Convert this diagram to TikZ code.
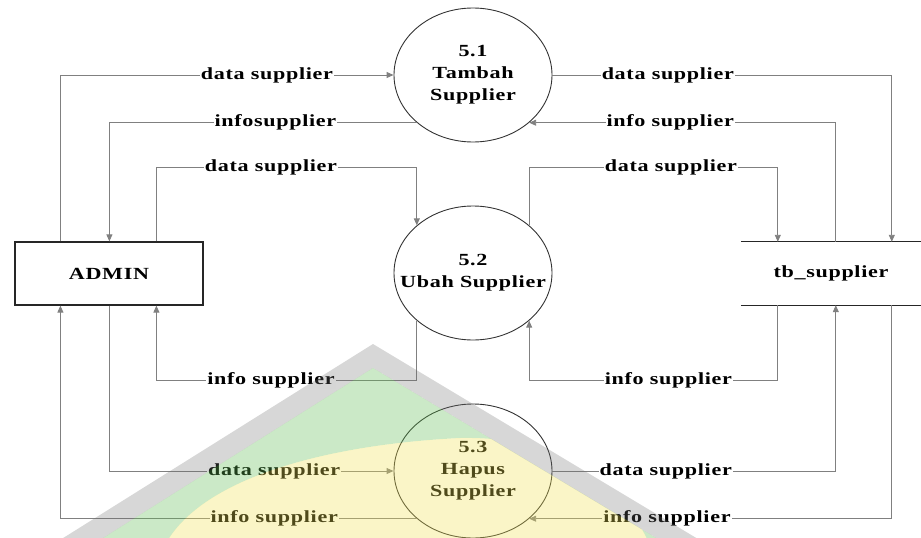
\documentclass[tikz,border=0pt]{standalone}
\usepackage{fontspec}
\setmainfont[FakeStretch=1.3,LetterSpace=4]{Liberation Serif}
\usetikzlibrary{shapes.geometric,arrows.meta}

\definecolor{wmgreen}{RGB}{98,189,84}
\definecolor{wmgray}{RGB}{110,110,110}
\definecolor{wmyellow}{RGB}{241,226,84}

\begin{document}
\begin{tikzpicture}[x=1pt,y=-1pt,
        every node/.style={font=\fontsize{17}{22}\selectfont\bfseries, text=black},
        proses/.style={ellipse, draw=black!80, line width=0.9pt, minimum width=158pt, minimum height=134pt, inner sep=0pt, align=center},
        entitas/.style={draw=black!85, line width=1.2pt, minimum width=188pt, minimum height=63pt},
        alur/.style={draw=black!50, line width=0.9pt, -{Triangle[length=7pt,width=6pt]}},
        lbl/.style={fill=white, inner sep=1pt}]
    \useasboundingbox (0,0) rectangle (921,538);
    \node[entitas] (admin) at (109,273.5) {ADMIN};
    \node[proses] (p1) at (473,75) {5.1\\Tambah\\Supplier};
    \node[proses, inner xsep=-17pt] (p2) at (473,273) {5.2\\Ubah Supplier};
    \node[proses] (p3) at (473,471) {5.3\\Hapus\\Supplier};
    \node[minimum width=180pt, minimum height=63pt] (tb) at (831,273.5) {tb\_supplier};
    \draw[black!85, line width=1.2pt] (tb.north west) -- (tb.north east) (tb.south west) -- (tb.south east);
    % admin <-> proses
    \draw[alur] ([xshift=46pt]admin.north west) |- node[lbl,pos=0.81] {data supplier} (p1.west);
    \draw[alur] (p1.south west) -| node[lbl,pos=0.23] {infosupplier} ([xshift=95pt]admin.north west);
    \draw[alur] ([xshift=142pt]admin.north west) -- ++(0,-74) -| node[lbl,pos=0.22] {data supplier} (p2.north west);
    \draw[alur] (p2.south west) -- ++(0,60) -| node[lbl,pos=0.28] {info supplier} ([xshift=142pt]admin.south west);
    \draw[alur] ([xshift=95pt]admin.south west) |- node[lbl,pos=0.79] {data supplier} (p3.west);
    \draw[alur] (p3.south west) -| node[lbl,pos=0.2] {info supplier} ([xshift=46pt]admin.south west);
    % proses <-> tb_supplier
    \draw[alur] (p1.east) -| node[lbl,pos=0.17] {data supplier} ([xshift=151pt]tb.north west);
    \draw[alur] ([xshift=95pt]tb.north west) |- node[lbl,pos=0.77] {info supplier} (p1.south east);
    \draw[alur] (p2.north east) -- ++(0,-58) -| node[lbl,pos=0.285] {data supplier} ([xshift=37pt]tb.north west);
    \draw[alur] ([xshift=37pt]tb.south west) -- ++(0,75) -| node[lbl,pos=0.22] {info supplier} (p2.south east);
    \draw[alur] (p3.east) -| node[lbl,pos=0.2] {data supplier} ([xshift=95pt]tb.south west);
    \draw[alur] ([xshift=151pt]tb.south west) |- node[lbl,pos=0.81] {info supplier} (p3.south east);
    % watermark
    \begin{scope}
        \clip (0,0) rectangle (921,538);
        \fill[wmgray, fill opacity=0.28, even odd rule] (373,344) -- (52,545) -- (708,545) -- cycle
            (373,368) -- (92,545) -- (668,545) -- cycle;
        \clip (373,368) -- (92,545) -- (668,545) -- cycle;
        \fill[wmgreen, fill opacity=0.33, even odd rule] (373,368) -- (92,545) -- (668,545) -- cycle
            (165,545) .. controls (200,480) and (320,445) .. (460,438) .. controls (560,436) and (620,480) .. (650,545) -- cycle;
        \fill[wmyellow, fill opacity=0.33] (165,545) .. controls (200,480) and (320,445) .. (460,438) .. controls (560,436) and (620,480) .. (650,545) -- cycle;
    \end{scope}
\end{tikzpicture}
\end{document}
